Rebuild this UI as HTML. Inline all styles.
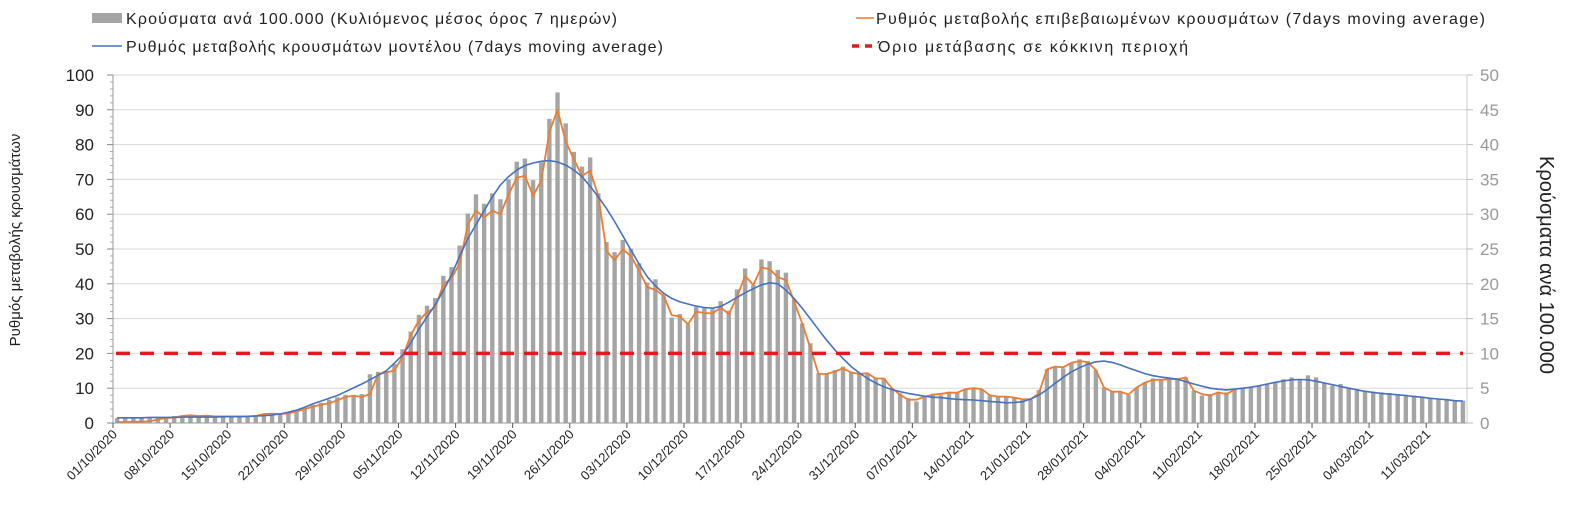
<!DOCTYPE html>
<html><head><meta charset="utf-8"><style>
body{margin:0;background:#fff;}
svg{display:block;font-family:"Liberation Sans",sans-serif;}
</style></head><body>
<svg id="chart" width="1573" height="506" viewBox="0 0 1573 506" xmlns="http://www.w3.org/2000/svg">
<g id="legend">
 <g><rect x="92" y="13" width="30" height="10" fill="#a5a5a5"/><text x="126" y="24" font-size="16" fill="#222" textLength="491" lengthAdjust="spacing">Κρούσματα ανά 100.000  (Κυλιόμενος μέσος όρος 7 ημερών)</text></g>
 <g><line x1="92" y1="46" x2="122" y2="46" stroke="#4472c4" stroke-width="1.5"/><text x="126" y="52" font-size="16" fill="#222" textLength="537" lengthAdjust="spacing">Ρυθμός μεταβολής κρουσμάτων μοντέλου (7days moving average)</text></g>
 <g><line x1="856" y1="18" x2="874" y2="18" stroke="#ed7d31" stroke-width="1.5"/><text x="876" y="24" font-size="16" fill="#222" textLength="609" lengthAdjust="spacing">Ρυθμός μεταβολής επιβεβαιωμένων κρουσμάτων (7days moving average)</text></g>
 <g><line x1="852" y1="46" x2="876" y2="46" stroke="#e31a1c" stroke-width="3.5" stroke-dasharray="7 6"/><text x="878" y="52" font-size="16" fill="#222" textLength="310" lengthAdjust="spacing">Όριο μετάβασης σε κόκκινη περιοχή</text></g>
</g>
<g id="grid"></g>
<g id="bars"></g>
<g id="lines"></g>
<g id="axes"></g>
<text transform="translate(20,240) rotate(-90)" text-anchor="middle" font-size="15" fill="#222">Ρυθμός μεταβολής κρουσμάτων</text>
<text transform="translate(1540,265) rotate(90)" text-anchor="middle" font-size="20" fill="#222">Κρούσματα ανά 100.000</text>
</svg>
<script>
const startDate = [2020, 10, 1];
const leftTicks = [0,10,20,30,40,50,60,70,80,90,100];
const rightTicks = [0,5,10,15,20,25,30,35,40,45,50];
const thresholdValue = [20];
const casesPer100k = [
0.7,0.75,0.75,0.75,0.8,0.8,0.85,
1.0,1.1,1.1,1.1,1.1,1.05,1.05,
1.0,1.0,1.0,1.05,1.2,1.2,1.25,
1.55,1.8,2.15,2.6,2.9,3.35,3.7,
4.05,4.05,4.15,7.0,7.35,7.5,8.5,
10.6,13.15,15.55,16.85,17.95,21.15,22.4,
25.5,30.1,32.85,31.5,33,32.15,35,
37.55,38,34.9,37.45,43.7,47.5,43.05,
38.95,36.85,38.15,33,26,24.55,26.3,
25.05,22.95,20.2,20.65,18.35,15.15,15.65,
14.2,16.7,16.6,16.35,17.5,16.15,19.2,
22.2,19.85,23.5,23.25,22,21.6,17.75,
14.3,11.45,7.15,7.15,7.6,8.1,7.35,
7.15,7.15,6.4,6.4,5.0,4.25,3.55,
3.1,3.8,4.2,4.0,4.5,4.35,4.85,
5.0,4.85,4.0,3.8,3.8,3.65,3.3,
3.4,4.75,7.7,8.1,7.85,8.65,9.15,
8.9,7.6,5.1,4.5,4.5,4.0,5.1,
5.8,6.4,6.3,6.4,6.4,6.55,4.65,
3.95,4.15,4.4,4.4,4.8,5.0,5.1,
5.35,5.6,5.9,6.3,6.55,6.3,6.85,
6.55,5.75,5.35,5.6,5.1,4.9,4.65,
4.5,4.4,4.3,4.15,4.05,3.95,3.8,
3.6,3.45,3.35,3.2,3.2];
const confirmedRate = [
0.3,0.3,0.4,0.4,0.5,1.0,1.4,
1.6,2.0,2.2,2.0,2.1,1.9,1.9,
1.9,1.9,1.9,2.0,2.6,2.7,2.6,
2.8,3.3,4.0,4.7,5.3,5.7,6.5,
7.5,7.8,7.5,8.3,14.0,14.5,15.1,
19,25.2,29.5,31.8,33.2,39.8,41.6,
45.9,57,61,59.1,61,60,65.7,
70.5,71,65.3,69.6,83.6,90,80.9,
75.8,71,72.5,65.3,49.4,46.8,49.9,
48,43.7,39,38.3,36.6,31,30.6,
28.4,32,31.6,31.5,33.2,31.3,36.3,
42.2,39.7,44.7,44.2,41.9,41.1,34.9,
28.6,21.5,14.1,14.1,14.8,15.7,14.5,
14.1,14.3,12.8,12.8,10,8.1,6.7,
6.7,7.6,8.1,8.4,8.7,8.7,9.7,
10,9.7,8,7.6,7.6,7.3,6.8,
6.8,8.5,15.4,16.2,16,17.3,17.8,
17.5,15.2,10.2,9.0,9.0,8.2,10.2,
11.6,12.4,12.4,12.6,12.6,13.1,9.3,
8.3,7.9,8.8,8.3,9.6];
const modelRate = [
1.5,1.5,1.5,1.5,1.6,1.6,1.6,
1.6,1.7,1.7,1.7,1.7,1.7,1.8,
1.8,1.8,1.9,2.0,2.1,2.3,2.6,
3.1,3.7,4.5,5.5,6.3,7.1,7.9,
9.0,10.1,11.2,12.4,13.7,15.0,17.2,
19.5,23,27,30.5,34,38,42.5,
48,53,57,61,65,68.4,70.8,
72.7,74,74.7,75.2,75.4,75,74.1,
72.7,70.8,68,65,61.6,57.9,53.8,
49.7,45.7,42,39.4,37.3,35.8,34.8,
34.2,33.6,33.2,33,33.5,34.7,36.1,
37.4,38.6,39.7,40.3,40,38.2,35.8,
33,29.9,26.8,23.8,21,18.5,16.2,
14.4,12.8,11.5,10.4,9.6,9,8.5,
8.1,7.7,7.4,7.3,7.0,6.8,6.7,
6.6,6.4,6.2,6.0,5.8,5.9,6.1,
6.9,8,9.6,11.4,13.1,14.7,15.9,
16.9,17.6,17.8,17.4,16.7,15.8,15,
14.2,13.6,13.2,12.9,12.6,11.9,11.2,
10.6,10,9.7,9.5,9.7,10,10.3,
10.7,11.2,11.7,12.1,12.4,12.5,12.4,
12,11.5,11,10.5,10,9.5,9.1,
8.8,8.5,8.3,8.1,7.9,7.6,7.4,
7.1,6.9,6.7,6.4,6.3];

const NS='http://www.w3.org/2000/svg';
const X0=113, PW=1467-113, Y0=423, YT=75;
const N=casesPer100k.length;
const bw=PW/N;
function xC(i){return X0+(i+0.5)*bw;}
function xEdge(i){return X0+i*bw;}
function yL(v){return Y0-(v/100)*(Y0-YT);}
function yR(v){return Y0-(v/50)*(Y0-YT);}
function mk(tag,attrs,parent){const e=document.createElementNS(NS,tag);for(const k in attrs)e.setAttribute(k,attrs[k]);parent.appendChild(e);return e;}
const grid=document.getElementById('grid'),bars=document.getElementById('bars'),lines=document.getElementById('lines'),axes=document.getElementById('axes');

leftTicks.forEach(t=>{
 if(t>0){const g=mk('line',{x1:X0,x2:X0+PW,y1:yL(t),y2:yL(t),stroke:'#d9d9d9','stroke-width':1},grid);
 
 }
 const tk=mk('line',{x1:X0-6,x2:X0,y1:yL(t),y2:yL(t),stroke:'#888','stroke-width':1},axes);
 
 
 const tx=mk('text',{x:X0-19,y:yL(t)+6,'text-anchor':'end','font-size':17,fill:'#222'},axes);
 tx.textContent=t;
 
 
 for(let m=2;m<10&&t<100;m+=2){const mt=mk('line',{x1:X0-3,x2:X0,y1:yL(t+m),y2:yL(t+m),stroke:'#aaa','stroke-width':1},axes);
 
 }
});
rightTicks.forEach(t=>{
 const tk=mk('line',{x1:X0+PW,x2:X0+PW+6,y1:yR(t),y2:yR(t),stroke:'#bbb','stroke-width':1},axes);
 
 
 const tx=mk('text',{x:X0+PW+13,y:yR(t)+6,'font-size':17,fill:'#999'},axes);
 tx.textContent=t;
 
 
});
const la=mk('line',{x1:X0,x2:X0,y1:YT,y2:Y0,stroke:'#999','stroke-width':1},axes);


const ra=mk('line',{x1:X0+PW,x2:X0+PW,y1:YT,y2:Y0,stroke:'#ccc','stroke-width':1},axes);


const xa=mk('line',{x1:X0,x2:X0+PW,y1:Y0,y2:Y0,stroke:'#999','stroke-width':1},axes);



casesPer100k.forEach((v,i)=>{
 const r=mk('rect',{x:xC(i)-2.2,y:yR(v),width:4.4,height:Y0-yR(v),fill:'#a5a5a5'},bars);
 
 
});
function pts(arr){return arr.map((v,i)=>xC(i).toFixed(1)+','+yL(v).toFixed(1)).join(' ');}
const ol=mk('polyline',{points:pts(confirmedRate),fill:'none',stroke:'#ed7d31','stroke-width':1.8,'stroke-linejoin':'round'},lines);


const bl=mk('polyline',{points:pts(modelRate),fill:'none',stroke:'#4472c4','stroke-width':1.6,'stroke-linejoin':'round'},lines);


const th=mk('line',{x1:X0+3,x2:X0+PW-4,y1:yL(thresholdValue[0]),y2:yL(thresholdValue[0]),stroke:'#e31a1c','stroke-width':3.5,'stroke-dasharray':'14 10'},lines);



const d0=new Date(startDate[0],startDate[1]-1,startDate[2],12);
for(let i=0;i<N;i+=7){
 const tk=mk('line',{x1:xEdge(i),x2:xEdge(i),y1:Y0,y2:Y0+5,stroke:'#555','stroke-width':1},axes);
 
 
 const d=new Date(d0.getTime()+i*86400000);
 const s=String(d.getDate()).padStart(2,'0')+'/'+String(d.getMonth()+1).padStart(2,'0')+'/'+d.getFullYear();
 const x=xEdge(i)+5, y=Y0+12;
 const tx=mk('text',{x:x,y:y,'text-anchor':'end','font-size':13,fill:'#222',transform:`rotate(-45 ${x} ${y})`},axes);
 tx.textContent=s;
 
 
}
</script>
</body></html>
